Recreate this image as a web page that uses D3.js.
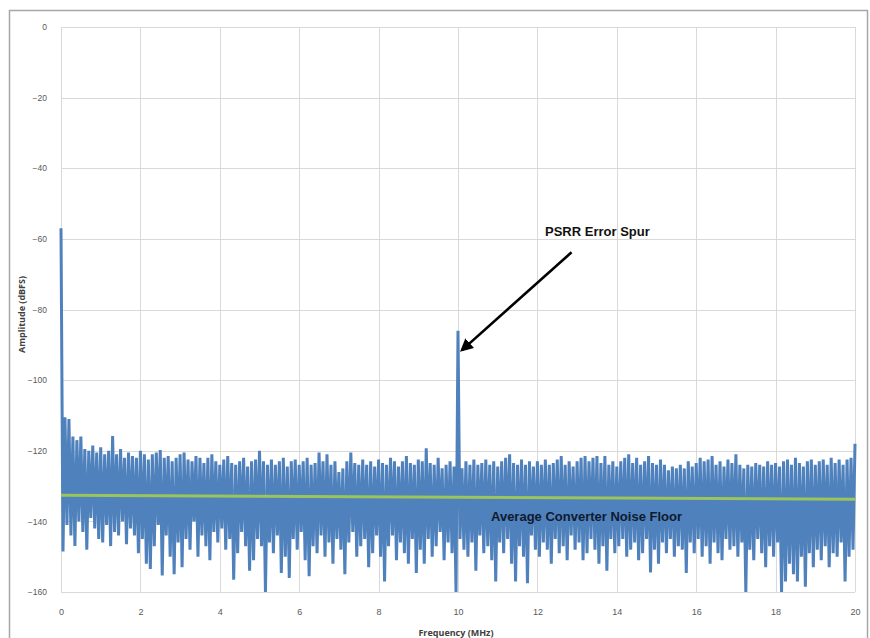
<!DOCTYPE html>
<html>
<head>
<meta charset="utf-8">
<script src="https://cdn.jsdelivr.net/npm/d3@7"></script>
<style>
  body { margin: 0; background: #fff; }
  svg { display: block; font-family: "Open Sans", "Liberation Sans", sans-serif; }
</style>
</head>
<body>
<svg id="chart" width="870" height="638"></svg>
<script>
// axis ticks
const xTicks = [0, 2, 4, 6, 8, 10, 12, 14, 16, 18, 20];
const yTicks = [0, -20, -40, -60, -80, -100, -120, -140, -160];

// FFT in 0.1 MHz bins: peak of each bin (0..20 MHz)
const binStep = 0.1;
const binTops = [
  -57, -110.5, -111, -116, -117, -116,
  -119.5, -120, -118.5, -120.5, -119, -121, -120, -115.8,
  -121, -119.5, -122, -120.5, -121.5, -122, -120, -121, -122.5, -121, -120.5,
  -119.8, -122, -121.5, -123, -122, -121, -120.5, -122.5, -123, -121.5, -122, -123.5, -122,
  -121, -123, -124, -122.5, -121.5, -123.5, -124, -123, -122, -124.5, -123, -122.5,
  -120, -123, -124, -122.5, -124, -123, -122, -124.5, -123, -122.5,
  -124, -123, -122, -124, -123.5, -120.5, -123, -121, -124, -123,
  -126, -125, -123, -120.5, -123.5, -124, -122.5, -124, -123, -124.5,
  -122.5, -123.5, -124, -122, -123, -124.5, -123, -121.5, -123.5, -124,
  -122.5, -123, -119.3, -123.5, -124, -122, -125, -124, -123, -124.5,
  -86,
  -125, -123, -124, -122.5, -124, -123.5, -122.5, -124, -123,
  -124.5, -123, -122, -121, -123.5, -124, -122.5, -124, -123, -124.5,
  -123, -124, -122.5, -124, -123.5, -122.5, -121.5, -124, -123, -124.5,
  -123, -122, -121.5, -123, -122, -121.5, -123.5, -121.5, -124, -123,
  -124.5, -123, -122, -121, -123.5, -122, -124, -123, -121.5, -123.5,
  -124, -122.5, -124, -125.5, -124.5, -125, -124, -125, -123, -124.5,
  -123.5, -122, -123, -122.5, -121.5, -124, -123, -124.5, -122.5, -123.5,
  -121, -124, -125, -124, -124.5, -123.5, -124, -124.5, -123, -124,
  -123.5, -124.5, -123, -122.5, -124, -122, -123.5, -124.5, -123, -122.5,
  -124, -123, -122.5, -124, -122, -123.5, -122.5, -124, -122.5, -122,
  -118
];

// lowest sample of each bin, half a bin after the peak
const binDips = [
  -148.5, -141, -144, -147, -140, -143, -148, -139, -142, -145,
  -146, -141, -147, -143, -144, -140, -146.5, -142, -144, -149,
  -145, -152, -153.5, -147, -141, -155.3, -144, -150, -155, -146,
  -153, -145, -148, -140, -150, -144, -147, -151, -143, -146,
  -142, -148, -145, -156.5, -149, -143, -147, -154, -151, -145,
  -147, -160, -146, -149, -144, -154.6, -150, -156, -145, -148,
  -143, -151, -155.5, -147, -149, -144, -150, -146, -152, -145,
  -148, -155, -146, -143, -150, -147, -145, -153, -149, -144,
  -150, -157, -147, -144, -151, -146, -149, -152, -145, -154.6,
  -148, -152, -145, -150, -147, -143, -151, -146, -149, -160,
  -145, -148, -150, -146, -154, -144, -149, -147, -151, -157,
  -146, -149, -145, -152, -157, -147, -150, -157.5, -144, -148,
  -150, -146, -148, -152, -145, -149, -147, -151, -144, -148,
  -146, -151, -149, -145, -148, -152, -147, -154, -145, -149,
  -147, -145, -150, -148, -146, -151, -149, -145, -154.5, -148,
  -152, -146, -149, -145, -150, -147, -148, -154.6, -146, -149,
  -145, -150, -147, -152, -146, -149, -151, -145, -148, -147,
  -150, -146, -160, -148, -151, -145, -149, -153, -147, -150,
  -146, -160, -157, -152, -155, -157, -150, -158.5, -149, -153,
  -148, -151, -147, -153, -149, -150, -146, -157, -150, -148
];

// average converter noise floor (trend line)
const floorFreq = [0, 20];
const floorDb = [-132.6, -133.7];

const svg = d3.select('#chart');
const margin = { left: 61, right: 15, top: 27, bottom: 46 };
const W = 870, H = 638;

// outer chart frame
svg.append('rect')
  .attr('x', 9.5).attr('y', 10.5)
  .attr('width', 858).attr('height', 640)
  .attr('fill', '#fff')
  .attr('stroke', '#a6a6a6')
  .attr('stroke-width', 1.5);

const x = d3.scaleLinear().domain([0, 20]).range([margin.left, W - margin.right]);
const y = d3.scaleLinear().domain([-160, 0]).range([H - margin.bottom, margin.top]);

// gridlines
svg.append('g')
  .selectAll('line')
  .data(yTicks)
  .join('line')
  .attr('x1', x(0)).attr('x2', x(20))
  .attr('y1', d => Math.round(y(d)) + 0.5).attr('y2', d => Math.round(y(d)) + 0.5)
  .attr('stroke', '#d9d9d9');

svg.append('g')
  .selectAll('line')
  .data(xTicks)
  .join('line')
  .attr('x1', d => Math.round(x(d)) + 0.5).attr('x2', d => Math.round(x(d)) + 0.5)
  .attr('y1', y(0)).attr('y2', y(-160))
  .attr('stroke', '#d9d9d9');

// axes (labels only, Excel style)
const yAxis = svg.append('g')
  .attr('transform', `translate(${x(0) - 11},0)`)
  .call(d3.axisLeft(y).tickValues(yTicks).tickSize(0).tickFormat(d3.format('d')));
yAxis.select('.domain').remove();
yAxis.selectAll('text').attr('fill', '#595959').style('font-size', '8.5px');

const xAxis = svg.append('g')
  .attr('transform', `translate(0,${y(-160) + 14})`)
  .call(d3.axisBottom(x).tickValues(xTicks).tickSize(0).tickFormat(d3.format('d')));
xAxis.select('.domain').remove();
xAxis.selectAll('text').attr('fill', '#595959').style('font-size', '9px');

// spectrum: each bin's peak followed by its dip
const spectrum = [];
binTops.forEach((db, i) => {
  spectrum.push({ f: i * binStep, db });
  if (i < binDips.length) spectrum.push({ f: i * binStep + binStep / 2, db: binDips[i] });
});

svg.append('path')
  .datum(spectrum)
  .attr('fill', 'none')
  .attr('stroke', '#4f81bd')
  .attr('stroke-width', 3)
  .attr('stroke-linejoin', 'bevel')
  .attr('d', d3.line().x(d => x(d.f)).y(d => y(d.db)));

svg.append('path')
  .datum(floorFreq.map((f, i) => ({ f, db: floorDb[i] })))
  .attr('fill', 'none')
  .attr('stroke', '#9bc45a')
  .attr('stroke-width', 3)
  .attr('d', d3.line().x(d => x(d.f)).y(d => y(d.db)));

// axis titles
svg.append('text')
  .attr('transform', `translate(25,${(y(0) + y(-160)) / 2 + 5}) rotate(-90)`)
  .attr('text-anchor', 'middle')
  .attr('fill', '#404040')
  .style('font-size', '9px')
  .style('font-weight', 'bold')
  .text('Amplitude (dBFS)');

svg.append('text')
  .attr('x', x(10) - 2)
  .attr('y', 636)
  .attr('text-anchor', 'middle')
  .attr('fill', '#404040')
  .style('font-size', '9px')
  .style('font-weight', 'bold')
  .text('Frequency (MHz)');

// annotations
const defs = svg.append('defs');
defs.append('marker')
  .attr('id', 'head')
  .attr('viewBox', '0 0 10 10')
  .attr('refX', 8).attr('refY', 5)
  .attr('markerWidth', 5).attr('markerHeight', 5)
  .attr('orient', 'auto')
  .append('path')
  .attr('d', 'M0,0 L10,5 L0,10 Z')
  .attr('fill', '#000');

svg.append('line')
  .attr('x1', x(12.86)).attr('y1', y(-63.8))
  .attr('x2', x(10.1)).attr('y2', y(-91.5))
  .attr('stroke', '#000')
  .attr('stroke-width', 2.6)
  .attr('marker-end', 'url(#head)');

svg.append('text')
  .attr('x', 545).attr('y', 236)
  .attr('fill', '#111')
  .style('font-family', '"Liberation Sans", sans-serif')
  .style('font-size', '13px')
  .style('font-weight', 'bold')
  .text('PSRR Error Spur');

svg.append('text')
  .attr('x', 491).attr('y', 521)
  .attr('fill', '#0f1a2e')
  .style('font-family', '"Liberation Sans", sans-serif')
  .style('font-size', '13px')
  .style('font-weight', 'bold')
  .text('Average Converter Noise Floor');
</script>
</body>
</html>
